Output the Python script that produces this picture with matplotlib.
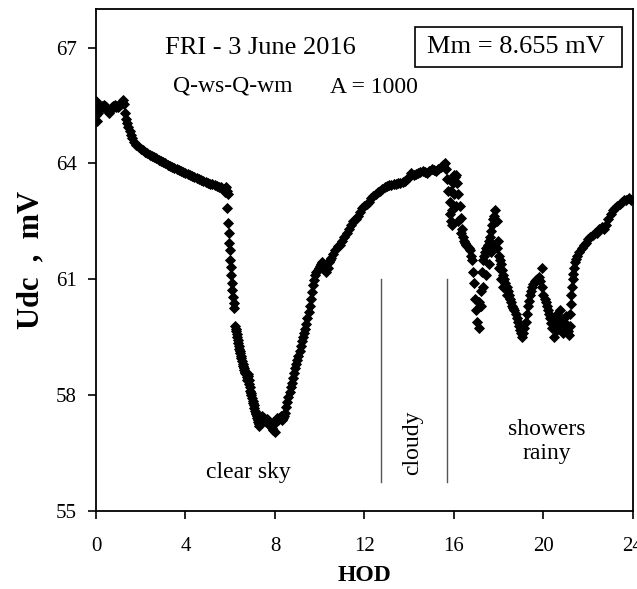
import matplotlib
matplotlib.use("Agg")
import matplotlib.pyplot as plt
from matplotlib.patches import Rectangle

plt.rcParams['font.family'] = ['Liberation Serif', 'DejaVu Serif']

# Udc record, 3 June 2016 (hour of day, mV)
hod_night = [0.00, 0.02, 0.04, 0.06, 0.10, 0.15, 0.20, 0.25, 0.30, 0.35, 0.40, 0.45,
             0.50, 0.55, 0.60, 0.65, 0.70, 0.75, 0.80, 0.85, 0.90, 0.95, 1.00, 1.05,
             1.10, 1.15, 1.20, 1.25, 1.30, 1.35, 1.40, 1.45, 1.50, 1.55, 1.60, 1.70,
             1.80, 1.90, 2.00, 2.10, 2.20, 2.30, 2.40, 2.50, 2.60, 2.70, 2.80, 2.90,
             3.00, 3.10, 3.20, 3.30, 3.40, 3.50, 3.60, 3.70, 3.80, 3.90, 4.00, 4.10,
             4.20, 4.30, 4.40, 4.50, 4.60, 4.70, 4.80, 4.90, 5.00, 5.10, 5.20, 5.30,
             5.40, 5.50, 5.60, 5.70, 5.75, 5.80, 5.85, 5.90]
udc_night = [65.25, 65.62, 65.10, 65.45, 65.30, 65.40, 65.45, 65.50, 65.45, 65.52, 65.50, 65.45,
             65.40, 65.35, 65.30, 65.40, 65.45, 65.50, 65.45, 65.52, 65.45, 65.50, 65.45, 65.50,
             65.55, 65.60, 65.65, 65.55, 65.30, 65.15, 65.05, 64.95, 64.85, 64.75, 64.65, 64.55,
             64.48, 64.42, 64.38, 64.35, 64.30, 64.27, 64.23, 64.20, 64.17, 64.13, 64.10, 64.06,
             64.03, 64.00, 63.97, 63.94, 63.91, 63.88, 63.86, 63.83, 63.80, 63.78, 63.76, 63.73,
             63.70, 63.68, 63.65, 63.62, 63.60, 63.57, 63.55, 63.52, 63.50, 63.48, 63.46, 63.44,
             63.42, 63.40, 63.38, 63.33, 63.25, 63.40, 63.30, 63.22]

hod_drop = [5.87, 5.90, 5.93, 5.95, 5.98, 6.00, 6.03, 6.05, 6.08, 6.10, 6.13, 6.15, 6.18]
udc_drop = [62.84, 62.47, 62.21, 61.93, 61.75, 61.49, 61.31, 61.10, 60.90, 60.72, 60.53, 60.38, 60.25]

hod_day = [6.22, 6.24, 6.26, 6.28, 6.30, 6.33, 6.35, 6.38, 6.40, 6.43, 6.45, 6.48,
           6.50, 6.53, 6.55, 6.58, 6.60, 6.63, 6.65, 6.68, 6.70, 6.73, 6.75, 6.78,
           6.80, 6.83, 6.85, 6.88, 6.90, 6.93, 6.95, 6.98, 7.00, 7.03, 7.05, 7.08,
           7.10, 7.13, 7.15, 7.18, 7.20, 7.23, 7.25, 7.28, 7.30, 7.35, 7.40, 7.45,
           7.50, 7.55, 7.60, 7.65, 7.70, 7.75, 7.80, 7.85, 7.90, 7.95, 8.00, 8.05,
           8.10, 8.15, 8.20, 8.25, 8.30, 8.35, 8.40, 8.45, 8.50, 8.55, 8.60, 8.65,
           8.70, 8.75, 8.80, 8.85, 8.90, 8.95, 9.00, 9.05, 9.10, 9.15, 9.20, 9.25,
           9.30, 9.35, 9.40, 9.45, 9.50, 9.55, 9.60, 9.65, 9.70, 9.75, 9.80, 9.85,
           9.90, 9.95, 10.00, 10.05, 10.10, 10.15, 10.20, 10.25, 10.30, 10.35, 10.40, 10.45,
           10.50, 10.60, 10.70, 10.80, 10.90, 11.00, 11.10, 11.20, 11.30, 11.40, 11.50, 11.60,
           11.70, 11.80, 11.90, 12.00, 12.10, 12.20, 12.30, 12.40, 12.50, 12.60, 12.70, 12.80,
           12.90, 13.00, 13.10, 13.20, 13.30, 13.40, 13.50, 13.60, 13.70, 13.80, 13.90, 14.00,
           14.10, 14.20, 14.30, 14.40, 14.50, 14.60, 14.70, 14.80, 14.90, 15.00, 15.10, 15.20,
           15.30, 15.40, 15.50, 15.60]
udc_day = [59.80, 59.72, 59.66, 59.58, 59.50, 59.42, 59.36, 59.28, 59.20, 59.15, 59.10, 59.02,
           58.95, 58.88, 58.80, 58.75, 58.70, 58.64, 58.60, 58.58, 58.55, 58.48, 58.40, 58.55,
           58.50, 58.40, 58.30, 58.20, 58.10, 58.05, 58.00, 57.92, 57.85, 57.80, 57.75, 57.68,
           57.60, 57.55, 57.50, 57.45, 57.40, 57.35, 57.30, 57.25, 57.20, 57.30, 57.45, 57.40,
           57.40, 57.35, 57.30, 57.38, 57.35, 57.25, 57.20, 57.15, 57.10, 57.30, 57.05, 57.30,
           57.40, 57.35, 57.40, 57.45, 57.35, 57.40, 57.45, 57.55, 57.70, 57.82, 57.95, 58.07,
           58.20, 58.32, 58.45, 58.58, 58.70, 58.80, 58.90, 59.02, 59.15, 59.28, 59.40, 59.50,
           59.60, 59.72, 59.85, 60.00, 60.15, 60.32, 60.50, 60.68, 60.85, 60.98, 61.10, 61.18,
           61.25, 61.30, 61.35, 61.40, 61.45, 61.40, 61.35, 61.28, 61.20, 61.30, 61.45, 61.50,
           61.55, 61.65, 61.75, 61.85, 61.90, 62.00, 62.10, 62.20, 62.30, 62.40, 62.50, 62.55,
           62.65, 62.75, 62.85, 62.90, 62.95, 63.00, 63.10, 63.15, 63.20, 63.25, 63.30, 63.35,
           63.40, 63.42, 63.44, 63.45, 63.47, 63.48, 63.50, 63.50, 63.52, 63.55, 63.60, 63.65,
           63.75, 63.70, 63.72, 63.75, 63.78, 63.80, 63.78, 63.75, 63.80, 63.85, 63.82, 63.80,
           63.85, 63.90, 63.95, 64.00]

hod_rain = [15.65, 15.70, 15.75, 15.80, 15.82, 15.85, 15.90, 15.95, 16.00, 16.05, 16.10, 16.15,
            16.20, 16.25, 16.30, 16.35, 16.40, 16.45, 16.50, 16.55, 16.60, 16.65, 16.70, 16.75,
            16.80, 16.85, 16.90, 16.95, 17.00, 17.05, 17.10, 17.15, 17.20, 17.25, 17.30, 17.35,
            17.40, 17.45, 17.50, 17.55, 17.60, 17.65, 17.70, 17.75, 17.80, 17.85, 17.90, 17.95,
            18.00, 18.05, 18.10, 18.15, 18.20, 18.25, 18.30, 18.35, 18.40, 18.45, 18.50, 18.55,
            18.60, 18.65, 18.70, 18.75, 18.80, 18.85, 18.90, 18.95, 19.00, 19.05, 19.10, 19.15,
            19.20, 19.25, 19.30, 19.35, 19.40, 19.45, 19.50, 19.55, 19.60, 19.65, 19.70, 19.75,
            19.80, 19.85, 19.92, 19.95, 20.00, 20.05, 20.10, 20.15, 20.20, 20.25, 20.30, 20.35,
            20.40, 20.45, 20.50, 20.55, 20.60, 20.65, 20.70, 20.75, 20.80, 20.85, 20.90, 20.95,
            21.00, 21.05, 21.10, 21.15, 21.18, 21.20, 21.23, 21.25, 21.28, 21.30, 21.33, 21.35,
            21.40, 21.45, 21.50, 21.60, 21.70, 21.80, 21.90, 22.00, 22.10, 22.20, 22.30, 22.40,
            22.50, 22.60, 22.70, 22.80, 22.90, 23.00, 23.10, 23.20, 23.30, 23.40, 23.50, 23.60,
            23.70, 23.80, 23.90]
udc_rain = [63.85, 63.60, 63.30, 63.00, 62.70, 62.50, 62.80, 63.50, 63.70, 63.65, 63.70, 63.50,
            63.20, 62.90, 62.60, 62.30, 62.10, 62.00, 61.95, 61.90, 61.85, 61.80, 61.75, 61.60,
            61.50, 61.20, 60.90, 60.50, 60.20, 59.90, 59.75, 60.30, 60.70, 61.20, 61.50, 61.60,
            61.70, 61.80, 61.90, 62.00, 62.10, 62.25, 62.40, 62.55, 62.65, 62.80, 62.50, 62.00,
            61.60, 61.50, 61.40, 61.25, 61.10, 61.00, 60.90, 60.80, 60.70, 60.60, 60.50, 60.40,
            60.30, 60.25, 60.20, 60.10, 60.00, 59.90, 59.80, 59.70, 59.60, 59.50, 59.60, 59.75,
            59.90, 60.10, 60.30, 60.45, 60.60, 60.70, 60.80, 60.88, 60.95, 60.98, 61.00, 61.02,
            61.05, 60.95, 61.30, 60.80, 60.60, 60.50, 60.40, 60.30, 60.20, 60.10, 60.00, 59.88,
            59.75, 59.50, 59.90, 60.00, 60.10, 60.00, 59.95, 59.90, 59.85, 59.88, 59.90, 59.85,
            59.80, 59.72, 59.65, 59.55, 59.80, 60.10, 60.35, 60.60, 60.80, 61.00, 61.15, 61.30,
            61.45, 61.52, 61.60, 61.70, 61.80, 61.90, 61.95, 62.05, 62.10, 62.15, 62.20, 62.20,
            62.30, 62.35, 62.30, 62.40, 62.55, 62.70, 62.80, 62.85, 62.90, 62.95, 63.00, 63.05,
            63.05, 63.10, 63.05]

# second branch of the noisy afternoon readings
hod_spread = [15.85, 15.90, 16.00, 16.10, 16.20, 16.30, 17.10, 17.20, 17.30, 17.45, 17.55, 17.65,
              17.75, 17.90, 18.00, 18.10, 18.20, 18.35, 20.60, 20.75, 20.85, 21.00]
udc_spread = [63.30, 62.40, 63.20, 62.90, 62.50, 62.20, 60.40, 60.30, 60.80, 61.10, 61.40, 61.70,
              61.90, 61.80, 61.30, 61.00, 60.80, 60.60, 59.70, 60.20, 59.60, 60.05]

weather_bounds = [12.74, 15.69]

fig = plt.figure(figsize=(6.37, 5.89), dpi=100)
ax = fig.add_axes([0.1507, 0.1324, 0.8430, 0.8523])

for h, u in [(hod_night, udc_night), (hod_drop, udc_drop), (hod_day, udc_day),
             (hod_rain, udc_rain), (hod_spread, udc_spread)]:
    ax.plot(h, u, linestyle='none', marker='D', ms=4.6, color='black', mew=0.6)

for xb in weather_bounds:
    ax.plot([xb, xb], [55.75, 61.0], color='#555555', lw=1.0)

ax.set_xlim(0, 24)
ax.set_ylim(55, 68)
ax.set_xticks(range(0, 25, 4))
ax.set_yticks([55, 58, 61, 64, 67])
ax.tick_params(direction='out', length=6, width=1.2, labelsize=15)
ax.tick_params(axis='x', pad=13)
ax.tick_params(axis='y', pad=8)
for sp in ax.spines.values():
    sp.set_linewidth(1.3)

ax.set_xlabel('HOD', fontsize=17, fontweight='bold', labelpad=6)
ax.set_ylabel('Udc  ,  mV', fontsize=22, fontweight='bold', labelpad=7)

ax.text(7.33, 67.0, 'FRI - 3 June 2016', fontsize=19, ha='center', va='center')
ax.text(6.12, 66.0, 'Q-ws-Q-wm', fontsize=17, ha='center', va='center')
ax.text(12.42, 65.96, 'A = 1000', fontsize=17, ha='center', va='center')
ax.add_patch(Rectangle((0.594, 0.884), 0.3855, 0.080, transform=ax.transAxes,
                       fill=False, edgecolor='black', lw=1.2))
ax.text(0.782, 0.924, 'Mm = 8.655 mV', fontsize=19, ha='center', va='center',
        transform=ax.transAxes)

ax.text(6.79, 56.0, 'clear sky', fontsize=17, ha='center', va='center')
ax.text(14.17, 56.78, 'cloudy', fontsize=17, ha='center', va='center', rotation=90)
ax.text(20.16, 56.8, 'showers\nrainy', fontsize=17, ha='center', va='center')

fig.savefig('out.png', dpi=100)
